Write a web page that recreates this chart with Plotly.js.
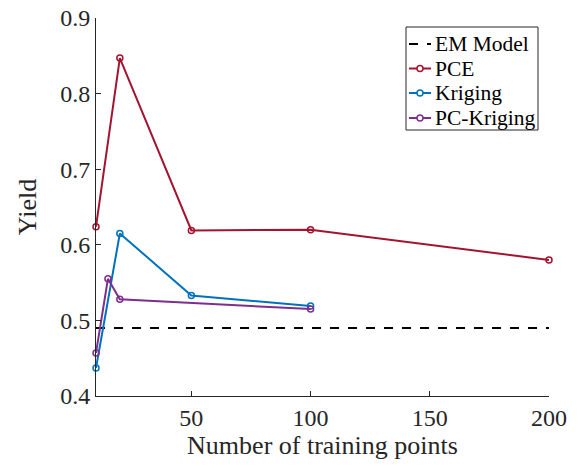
<!DOCTYPE html>
<html><head><meta charset="utf-8">
<script src="https://cdn.plot.ly/plotly-3.0.1.min.js"></script>
<style>body{margin:0;background:#fff}</style>
</head><body><div id="chart" style="width:581px;height:470px"></div>
<script>
const emX = [10, 200];
const emY = [0.49, 0.49];
const pceX = [10, 20, 50, 100, 200];
const pceY = [0.624, 0.847, 0.619, 0.620, 0.580];
const krigX = [10, 20, 50, 100];
const krigY = [0.437, 0.615, 0.533, 0.519];
const pckX = [10, 15, 20, 100];
const pckY = [0.457, 0.555, 0.528, 0.515];
const seriesNames = ['EM Model', 'PCE', 'Kriging', 'PC-Kriging'];
const seriesColors = ['#000000', '#A2142F', '#0072BD', '#7E2F8E'];
const xTicks = [50, 100, 150, 200];
const yTicks = [0.4, 0.5, 0.6, 0.7, 0.8, 0.9];

const mk = c => ({symbol: 'circle-open', size: 6, color: c, line: {width: 1.5, color: c}});
const data = [
  {x: emX, y: emY, name: seriesNames[0], mode: 'lines', line: {color: seriesColors[0], dash: 'dash', width: 2}},
  {x: pceX, y: pceY, name: seriesNames[1], mode: 'lines+markers', cliponaxis: false, line: {color: seriesColors[1], width: 2}, marker: mk(seriesColors[1])},
  {x: krigX, y: krigY, name: seriesNames[2], mode: 'lines+markers', cliponaxis: false, line: {color: seriesColors[2], width: 2}, marker: mk(seriesColors[2])},
  {x: pckX, y: pckY, name: seriesNames[3], mode: 'lines+markers', cliponaxis: false, line: {color: seriesColors[3], width: 2}, marker: mk(seriesColors[3])}
];
const fam = '"Liberation Serif", "Times New Roman", Times, serif';

// Hand-built legend box (MATLAB style), in paper coordinates
const W = 581, H = 470, mL = 96, mR = 32, mT = 18, mB = 74;
const pw = W - mL - mR, ph = H - mT - mB;
const px = v => (v - mL) / pw;
const py = v => (H - mB - v) / ph;
const shapes = [
  {type: 'rect', xref: 'paper', yref: 'paper', x0: px(406), x1: px(538), y0: py(130), y1: py(27),
   line: {color: '#262626', width: 1}, fillcolor: '#fff', layer: 'above'}
];
const annotations = [];
const rowY = [44, 68.5, 93, 118];
seriesNames.forEach((n, i) => {
  const yy = py(rowY[i]);
  shapes.push({type: 'line', xref: 'paper', yref: 'paper', x0: px(409), x1: px(431), y0: yy, y1: yy,
    line: {color: seriesColors[i], width: 2, dash: i === 0 ? 'dash' : 'solid'}, layer: 'above'});
  if (i > 0) {
    shapes.push({type: 'circle', xref: 'paper', yref: 'paper', x0: px(417), x1: px(423), y0: py(rowY[i] + 3), y1: py(rowY[i] - 3),
      line: {color: seriesColors[i], width: 1.5}, fillcolor: '#fff', layer: 'above'});
  }
  annotations.push({xref: 'paper', yref: 'paper', x: px(433), y: yy, xanchor: 'left', yanchor: 'middle',
    text: n, showarrow: false, font: {family: fam, size: 21.5, color: '#000'}});
});

const layout = {
  width: W, height: H,
  margin: {l: mL, r: mR, t: mT, b: mB},
  paper_bgcolor: '#fff', plot_bgcolor: '#fff',
  font: {family: fam, size: 24, color: '#262626'},
  showlegend: false,
  shapes: shapes, annotations: annotations,
  xaxis: {range: [10, 200], tickvals: xTicks, ticks: 'inside', ticklen: 5, tickcolor: '#262626',
          tickfont: {family: fam, size: 24, color: '#262626'},
          showline: true, linecolor: '#262626', linewidth: 1, showgrid: false, zeroline: false,
          title: {text: 'Number of training points', font: {family: fam, size: 26, color: '#262626'}, standoff: 6}},
  yaxis: {range: [0.4, 0.9], tickvals: yTicks, ticktext: yTicks.map(v => v.toFixed(1)), ticks: 'inside', ticklen: 5, tickcolor: '#262626',
          tickfont: {family: fam, size: 24, color: '#262626'},
          showline: true, linecolor: '#262626', linewidth: 1, showgrid: false, zeroline: false,
          title: {text: 'Yield', font: {family: fam, size: 26, color: '#262626'}, standoff: 16}}
};
Plotly.newPlot('chart', data, layout, {staticPlot: true});
</script></body></html>
